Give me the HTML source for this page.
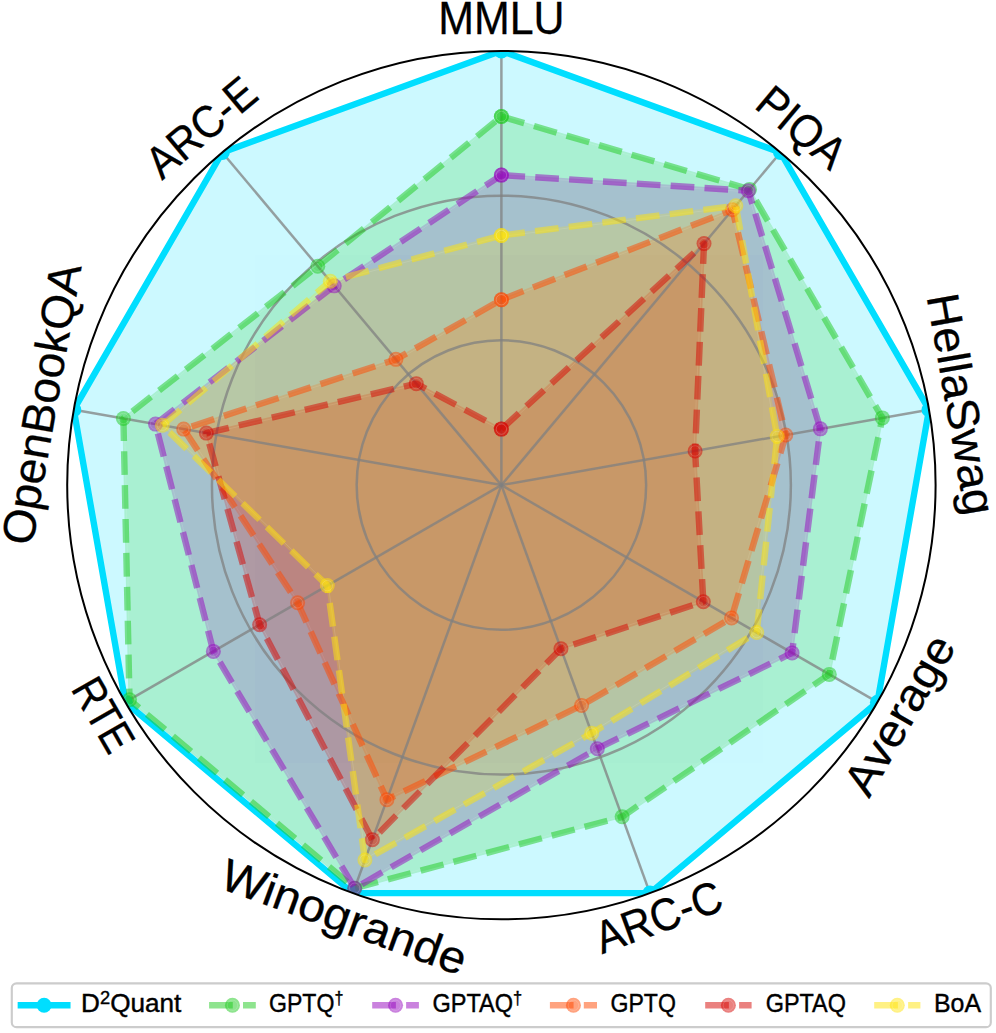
<!DOCTYPE html>
<html><head><meta charset="utf-8"><title>Radar chart</title>
<style>html,body{margin:0;padding:0;background:#fff;}body{width:996px;height:1033px;overflow:hidden;font-family:"Liberation Sans",sans-serif;}svg{display:block;}</style>
</head><body>
<svg width="996" height="1033" viewBox="0 0 996 1033">
<defs><clipPath id="c"><circle cx="501.4" cy="485.1" r="434.2"/></clipPath></defs>
<rect width="996" height="1033" fill="#fff"/>
<g clip-path="url(#c)">
<polygon points="501.40,50.90 780.50,152.48 929.00,409.70 877.43,702.20 649.91,893.11 352.89,893.11 125.37,702.20 73.80,409.70 222.30,152.48" fill="rgb(0,222,255)" stroke="rgb(0,222,255)" stroke-width="2.15" stroke-linejoin="miter" opacity="0.2"/>
<polygon points="501.40,116.46 749.52,189.40 882.39,417.92 829.30,674.41 622.13,816.82 354.68,888.22 129.51,699.81 123.40,418.45 317.75,266.24" fill="rgb(30,202,30)" stroke="rgb(30,202,30)" stroke-width="2.15" stroke-linejoin="miter" opacity="0.2"/>
<polygon points="501.64,117.65 748.81,190.31 881.26,418.10 828.34,673.77 621.68,815.83 354.94,887.04 130.57,699.30 124.48,418.96 318.42,267.07" fill="none" stroke="#fff" stroke-opacity="0.15" stroke-width="0.8"/>
<polygon points="501.40,175.08 748.40,190.73 820.39,428.85 792.07,652.92 597.33,748.68 354.68,888.22 213.36,651.40 155.47,424.10 334.22,285.86" fill="rgb(150,5,190)" stroke="rgb(150,5,190)" stroke-width="2.15" stroke-linejoin="miter" opacity="0.2"/>
<polygon points="501.69,176.17 747.59,191.76 819.30,428.94 791.08,652.21 596.83,747.73 355.06,886.77 214.36,650.98 156.68,424.52 334.84,286.73" fill="none" stroke="#fff" stroke-opacity="0.15" stroke-width="0.8"/>
<polygon points="501.40,299.70 732.49,209.69 785.76,434.96 731.53,617.97 581.59,705.43 386.90,799.68 297.59,602.77 183.69,429.08 395.90,359.37" fill="rgb(255,72,0)" stroke="rgb(255,72,0)" stroke-width="2.15" stroke-linejoin="miter" opacity="0.2"/>
<polygon points="501.86,300.67 731.74,211.14 784.65,434.93 730.62,617.25 581.09,704.48 387.42,798.24 298.53,602.25 185.35,429.66 396.34,360.35" fill="none" stroke="#fff" stroke-opacity="0.15" stroke-width="0.8"/>
<polygon points="501.40,429.09 704.03,243.62 695.10,450.94 703.33,601.68 560.95,648.71 372.35,839.66 259.61,624.70 206.35,433.08 416.27,383.65" fill="rgb(214,4,0)" stroke="rgb(214,4,0)" stroke-width="2.15" stroke-linejoin="miter" opacity="0.2"/>
<polygon points="501.56,430.39 702.85,246.15 694.03,450.95 702.21,600.92 560.37,647.78 372.62,837.87 260.61,624.30 207.68,433.86 416.13,384.79" fill="none" stroke="#fff" stroke-opacity="0.15" stroke-width="0.8"/>
<polygon points="501.40,235.44 735.84,205.70 777.20,436.47 756.72,632.51 591.69,733.17 364.92,860.07 327.30,585.62 162.31,425.31 330.31,281.21" fill="rgb(255,228,10)" stroke="rgb(255,228,10)" stroke-width="2.15" stroke-linejoin="miter" opacity="0.2"/>
<polygon points="501.61,236.49 734.97,206.89 776.12,436.51 755.71,631.87 591.15,732.25 365.77,858.37 328.31,585.11 163.90,425.36 330.82,282.18" fill="none" stroke="#fff" stroke-opacity="0.15" stroke-width="0.8"/>
<circle cx="501.4" cy="485.1" r="144.73" stroke="#808080" stroke-opacity="0.75" stroke-width="2.5" fill="none"/>
<circle cx="501.4" cy="485.1" r="289.47" stroke="#808080" stroke-opacity="0.75" stroke-width="2.5" fill="none"/>
<line x1="501.4" y1="485.1" x2="501.40" y2="50.90" stroke="#808080" stroke-opacity="0.75" stroke-width="2.5" fill="none"/>
<line x1="501.4" y1="485.1" x2="780.50" y2="152.48" stroke="#808080" stroke-opacity="0.75" stroke-width="2.5" fill="none"/>
<line x1="501.4" y1="485.1" x2="929.00" y2="409.70" stroke="#808080" stroke-opacity="0.75" stroke-width="2.5" fill="none"/>
<line x1="501.4" y1="485.1" x2="877.43" y2="702.20" stroke="#808080" stroke-opacity="0.75" stroke-width="2.5" fill="none"/>
<line x1="501.4" y1="485.1" x2="649.91" y2="893.11" stroke="#808080" stroke-opacity="0.75" stroke-width="2.5" fill="none"/>
<line x1="501.4" y1="485.1" x2="352.89" y2="893.11" stroke="#808080" stroke-opacity="0.75" stroke-width="2.5" fill="none"/>
<line x1="501.4" y1="485.1" x2="125.37" y2="702.20" stroke="#808080" stroke-opacity="0.75" stroke-width="2.5" fill="none"/>
<line x1="501.4" y1="485.1" x2="73.80" y2="409.70" stroke="#808080" stroke-opacity="0.75" stroke-width="2.5" fill="none"/>
<line x1="501.4" y1="485.1" x2="222.30" y2="152.48" stroke="#808080" stroke-opacity="0.75" stroke-width="2.5" fill="none"/>
<path d="M501.40 50.90 L780.50 152.48 L929.00 409.70 L877.43 702.20 L649.91 893.11 L352.89 893.11 L125.37 702.20 L73.80 409.70 L222.30 152.48 L501.40 50.90" fill="none" stroke="rgb(0,222,255)" stroke-width="6.4" stroke-linejoin="round" stroke-linecap="square"/>
<circle cx="501.40" cy="50.90" r="7.5" fill="rgb(0,222,255)"/>
<circle cx="780.50" cy="152.48" r="7.5" fill="rgb(0,222,255)"/>
<circle cx="929.00" cy="409.70" r="7.5" fill="rgb(0,222,255)"/>
<circle cx="877.43" cy="702.20" r="7.5" fill="rgb(0,222,255)"/>
<circle cx="649.91" cy="893.11" r="7.5" fill="rgb(0,222,255)"/>
<circle cx="352.89" cy="893.11" r="7.5" fill="rgb(0,222,255)"/>
<circle cx="125.37" cy="702.20" r="7.5" fill="rgb(0,222,255)"/>
<circle cx="73.80" cy="409.70" r="7.5" fill="rgb(0,222,255)"/>
<circle cx="222.30" cy="152.48" r="7.5" fill="rgb(0,222,255)"/>
<path d="M501.40 116.46 L749.52 189.40 L882.39 417.92 L829.30 674.41 L622.13 816.82 L354.68 888.22 L129.51 699.81 L123.40 418.45 L317.75 266.24 L501.40 116.46" fill="none" stroke="rgb(30,202,30)" stroke-opacity="0.5" stroke-width="6.4" stroke-linejoin="round" stroke-linecap="butt" stroke-dasharray="23.68 10.24"/>
<circle cx="501.40" cy="116.46" r="7.5" fill="rgb(30,202,30)" fill-opacity="0.5"/>
<circle cx="501.40" cy="116.46" r="5.2" fill="none" stroke="#fff" stroke-opacity="0.3" stroke-width="0.5"/>
<circle cx="749.52" cy="189.40" r="7.5" fill="rgb(30,202,30)" fill-opacity="0.5"/>
<circle cx="749.52" cy="189.40" r="5.2" fill="none" stroke="#fff" stroke-opacity="0.3" stroke-width="0.5"/>
<circle cx="882.39" cy="417.92" r="7.5" fill="rgb(30,202,30)" fill-opacity="0.5"/>
<circle cx="882.39" cy="417.92" r="5.2" fill="none" stroke="#fff" stroke-opacity="0.3" stroke-width="0.5"/>
<circle cx="829.30" cy="674.41" r="7.5" fill="rgb(30,202,30)" fill-opacity="0.5"/>
<circle cx="829.30" cy="674.41" r="5.2" fill="none" stroke="#fff" stroke-opacity="0.3" stroke-width="0.5"/>
<circle cx="622.13" cy="816.82" r="7.5" fill="rgb(30,202,30)" fill-opacity="0.5"/>
<circle cx="622.13" cy="816.82" r="5.2" fill="none" stroke="#fff" stroke-opacity="0.3" stroke-width="0.5"/>
<circle cx="354.68" cy="888.22" r="7.5" fill="rgb(30,202,30)" fill-opacity="0.5"/>
<circle cx="354.68" cy="888.22" r="5.2" fill="none" stroke="#fff" stroke-opacity="0.3" stroke-width="0.5"/>
<circle cx="129.51" cy="699.81" r="7.5" fill="rgb(30,202,30)" fill-opacity="0.5"/>
<circle cx="129.51" cy="699.81" r="5.2" fill="none" stroke="#fff" stroke-opacity="0.3" stroke-width="0.5"/>
<circle cx="123.40" cy="418.45" r="7.5" fill="rgb(30,202,30)" fill-opacity="0.5"/>
<circle cx="123.40" cy="418.45" r="5.2" fill="none" stroke="#fff" stroke-opacity="0.3" stroke-width="0.5"/>
<circle cx="317.75" cy="266.24" r="7.5" fill="rgb(30,202,30)" fill-opacity="0.5"/>
<circle cx="317.75" cy="266.24" r="5.2" fill="none" stroke="#fff" stroke-opacity="0.3" stroke-width="0.5"/>
<circle cx="501.40" cy="116.46" r="7.5" fill="rgb(30,202,30)" fill-opacity="0.5"/>
<circle cx="501.40" cy="116.46" r="5.2" fill="none" stroke="#fff" stroke-opacity="0.3" stroke-width="0.5"/>
<path d="M501.40 175.08 L748.40 190.73 L820.39 428.85 L792.07 652.92 L597.33 748.68 L354.68 888.22 L213.36 651.40 L155.47 424.10 L334.22 285.86 L501.40 175.08" fill="none" stroke="rgb(150,5,190)" stroke-opacity="0.5" stroke-width="6.4" stroke-linejoin="round" stroke-linecap="butt" stroke-dasharray="23.68 10.24"/>
<circle cx="501.40" cy="175.08" r="7.5" fill="rgb(150,5,190)" fill-opacity="0.5"/>
<circle cx="501.40" cy="175.08" r="5.2" fill="none" stroke="#fff" stroke-opacity="0.3" stroke-width="0.5"/>
<circle cx="748.40" cy="190.73" r="7.5" fill="rgb(150,5,190)" fill-opacity="0.5"/>
<circle cx="748.40" cy="190.73" r="5.2" fill="none" stroke="#fff" stroke-opacity="0.3" stroke-width="0.5"/>
<circle cx="820.39" cy="428.85" r="7.5" fill="rgb(150,5,190)" fill-opacity="0.5"/>
<circle cx="820.39" cy="428.85" r="5.2" fill="none" stroke="#fff" stroke-opacity="0.3" stroke-width="0.5"/>
<circle cx="792.07" cy="652.92" r="7.5" fill="rgb(150,5,190)" fill-opacity="0.5"/>
<circle cx="792.07" cy="652.92" r="5.2" fill="none" stroke="#fff" stroke-opacity="0.3" stroke-width="0.5"/>
<circle cx="597.33" cy="748.68" r="7.5" fill="rgb(150,5,190)" fill-opacity="0.5"/>
<circle cx="597.33" cy="748.68" r="5.2" fill="none" stroke="#fff" stroke-opacity="0.3" stroke-width="0.5"/>
<circle cx="354.68" cy="888.22" r="7.5" fill="rgb(150,5,190)" fill-opacity="0.5"/>
<circle cx="354.68" cy="888.22" r="5.2" fill="none" stroke="#fff" stroke-opacity="0.3" stroke-width="0.5"/>
<circle cx="213.36" cy="651.40" r="7.5" fill="rgb(150,5,190)" fill-opacity="0.5"/>
<circle cx="213.36" cy="651.40" r="5.2" fill="none" stroke="#fff" stroke-opacity="0.3" stroke-width="0.5"/>
<circle cx="155.47" cy="424.10" r="7.5" fill="rgb(150,5,190)" fill-opacity="0.5"/>
<circle cx="155.47" cy="424.10" r="5.2" fill="none" stroke="#fff" stroke-opacity="0.3" stroke-width="0.5"/>
<circle cx="334.22" cy="285.86" r="7.5" fill="rgb(150,5,190)" fill-opacity="0.5"/>
<circle cx="334.22" cy="285.86" r="5.2" fill="none" stroke="#fff" stroke-opacity="0.3" stroke-width="0.5"/>
<circle cx="501.40" cy="175.08" r="7.5" fill="rgb(150,5,190)" fill-opacity="0.5"/>
<circle cx="501.40" cy="175.08" r="5.2" fill="none" stroke="#fff" stroke-opacity="0.3" stroke-width="0.5"/>
<path d="M501.40 299.70 L732.49 209.69 L785.76 434.96 L731.53 617.97 L581.59 705.43 L386.90 799.68 L297.59 602.77 L183.69 429.08 L395.90 359.37 L501.40 299.70" fill="none" stroke="rgb(255,72,0)" stroke-opacity="0.5" stroke-width="6.4" stroke-linejoin="round" stroke-linecap="butt" stroke-dasharray="23.68 10.24"/>
<circle cx="501.40" cy="299.70" r="7.5" fill="rgb(255,72,0)" fill-opacity="0.5"/>
<circle cx="501.40" cy="299.70" r="5.2" fill="none" stroke="#fff" stroke-opacity="0.3" stroke-width="0.5"/>
<circle cx="732.49" cy="209.69" r="7.5" fill="rgb(255,72,0)" fill-opacity="0.5"/>
<circle cx="732.49" cy="209.69" r="5.2" fill="none" stroke="#fff" stroke-opacity="0.3" stroke-width="0.5"/>
<circle cx="785.76" cy="434.96" r="7.5" fill="rgb(255,72,0)" fill-opacity="0.5"/>
<circle cx="785.76" cy="434.96" r="5.2" fill="none" stroke="#fff" stroke-opacity="0.3" stroke-width="0.5"/>
<circle cx="731.53" cy="617.97" r="7.5" fill="rgb(255,72,0)" fill-opacity="0.5"/>
<circle cx="731.53" cy="617.97" r="5.2" fill="none" stroke="#fff" stroke-opacity="0.3" stroke-width="0.5"/>
<circle cx="581.59" cy="705.43" r="7.5" fill="rgb(255,72,0)" fill-opacity="0.5"/>
<circle cx="581.59" cy="705.43" r="5.2" fill="none" stroke="#fff" stroke-opacity="0.3" stroke-width="0.5"/>
<circle cx="386.90" cy="799.68" r="7.5" fill="rgb(255,72,0)" fill-opacity="0.5"/>
<circle cx="386.90" cy="799.68" r="5.2" fill="none" stroke="#fff" stroke-opacity="0.3" stroke-width="0.5"/>
<circle cx="297.59" cy="602.77" r="7.5" fill="rgb(255,72,0)" fill-opacity="0.5"/>
<circle cx="297.59" cy="602.77" r="5.2" fill="none" stroke="#fff" stroke-opacity="0.3" stroke-width="0.5"/>
<circle cx="183.69" cy="429.08" r="7.5" fill="rgb(255,72,0)" fill-opacity="0.5"/>
<circle cx="183.69" cy="429.08" r="5.2" fill="none" stroke="#fff" stroke-opacity="0.3" stroke-width="0.5"/>
<circle cx="395.90" cy="359.37" r="7.5" fill="rgb(255,72,0)" fill-opacity="0.5"/>
<circle cx="395.90" cy="359.37" r="5.2" fill="none" stroke="#fff" stroke-opacity="0.3" stroke-width="0.5"/>
<circle cx="501.40" cy="299.70" r="7.5" fill="rgb(255,72,0)" fill-opacity="0.5"/>
<circle cx="501.40" cy="299.70" r="5.2" fill="none" stroke="#fff" stroke-opacity="0.3" stroke-width="0.5"/>
<path d="M501.40 429.09 L704.03 243.62 L695.10 450.94 L703.33 601.68 L560.95 648.71 L372.35 839.66 L259.61 624.70 L206.35 433.08 L416.27 383.65 L501.40 429.09" fill="none" stroke="rgb(214,4,0)" stroke-opacity="0.5" stroke-width="6.4" stroke-linejoin="round" stroke-linecap="butt" stroke-dasharray="23.68 10.24"/>
<circle cx="501.40" cy="429.09" r="7.5" fill="rgb(214,4,0)" fill-opacity="0.5"/>
<circle cx="501.40" cy="429.09" r="5.2" fill="none" stroke="#fff" stroke-opacity="0.3" stroke-width="0.5"/>
<circle cx="704.03" cy="243.62" r="7.5" fill="rgb(214,4,0)" fill-opacity="0.5"/>
<circle cx="704.03" cy="243.62" r="5.2" fill="none" stroke="#fff" stroke-opacity="0.3" stroke-width="0.5"/>
<circle cx="695.10" cy="450.94" r="7.5" fill="rgb(214,4,0)" fill-opacity="0.5"/>
<circle cx="695.10" cy="450.94" r="5.2" fill="none" stroke="#fff" stroke-opacity="0.3" stroke-width="0.5"/>
<circle cx="703.33" cy="601.68" r="7.5" fill="rgb(214,4,0)" fill-opacity="0.5"/>
<circle cx="703.33" cy="601.68" r="5.2" fill="none" stroke="#fff" stroke-opacity="0.3" stroke-width="0.5"/>
<circle cx="560.95" cy="648.71" r="7.5" fill="rgb(214,4,0)" fill-opacity="0.5"/>
<circle cx="560.95" cy="648.71" r="5.2" fill="none" stroke="#fff" stroke-opacity="0.3" stroke-width="0.5"/>
<circle cx="372.35" cy="839.66" r="7.5" fill="rgb(214,4,0)" fill-opacity="0.5"/>
<circle cx="372.35" cy="839.66" r="5.2" fill="none" stroke="#fff" stroke-opacity="0.3" stroke-width="0.5"/>
<circle cx="259.61" cy="624.70" r="7.5" fill="rgb(214,4,0)" fill-opacity="0.5"/>
<circle cx="259.61" cy="624.70" r="5.2" fill="none" stroke="#fff" stroke-opacity="0.3" stroke-width="0.5"/>
<circle cx="206.35" cy="433.08" r="7.5" fill="rgb(214,4,0)" fill-opacity="0.5"/>
<circle cx="206.35" cy="433.08" r="5.2" fill="none" stroke="#fff" stroke-opacity="0.3" stroke-width="0.5"/>
<circle cx="416.27" cy="383.65" r="7.5" fill="rgb(214,4,0)" fill-opacity="0.5"/>
<circle cx="416.27" cy="383.65" r="5.2" fill="none" stroke="#fff" stroke-opacity="0.3" stroke-width="0.5"/>
<circle cx="501.40" cy="429.09" r="7.5" fill="rgb(214,4,0)" fill-opacity="0.5"/>
<circle cx="501.40" cy="429.09" r="5.2" fill="none" stroke="#fff" stroke-opacity="0.3" stroke-width="0.5"/>
<path d="M501.40 235.44 L735.84 205.70 L777.20 436.47 L756.72 632.51 L591.69 733.17 L364.92 860.07 L327.30 585.62 L162.31 425.31 L330.31 281.21 L501.40 235.44" fill="none" stroke="rgb(255,228,10)" stroke-opacity="0.5" stroke-width="6.4" stroke-linejoin="round" stroke-linecap="butt" stroke-dasharray="23.68 10.24"/>
<circle cx="501.40" cy="235.44" r="7.5" fill="rgb(255,228,10)" fill-opacity="0.5"/>
<circle cx="501.40" cy="235.44" r="5.2" fill="none" stroke="#fff" stroke-opacity="0.3" stroke-width="0.5"/>
<circle cx="735.84" cy="205.70" r="7.5" fill="rgb(255,228,10)" fill-opacity="0.5"/>
<circle cx="735.84" cy="205.70" r="5.2" fill="none" stroke="#fff" stroke-opacity="0.3" stroke-width="0.5"/>
<circle cx="777.20" cy="436.47" r="7.5" fill="rgb(255,228,10)" fill-opacity="0.5"/>
<circle cx="777.20" cy="436.47" r="5.2" fill="none" stroke="#fff" stroke-opacity="0.3" stroke-width="0.5"/>
<circle cx="756.72" cy="632.51" r="7.5" fill="rgb(255,228,10)" fill-opacity="0.5"/>
<circle cx="756.72" cy="632.51" r="5.2" fill="none" stroke="#fff" stroke-opacity="0.3" stroke-width="0.5"/>
<circle cx="591.69" cy="733.17" r="7.5" fill="rgb(255,228,10)" fill-opacity="0.5"/>
<circle cx="591.69" cy="733.17" r="5.2" fill="none" stroke="#fff" stroke-opacity="0.3" stroke-width="0.5"/>
<circle cx="364.92" cy="860.07" r="7.5" fill="rgb(255,228,10)" fill-opacity="0.5"/>
<circle cx="364.92" cy="860.07" r="5.2" fill="none" stroke="#fff" stroke-opacity="0.3" stroke-width="0.5"/>
<circle cx="327.30" cy="585.62" r="7.5" fill="rgb(255,228,10)" fill-opacity="0.5"/>
<circle cx="327.30" cy="585.62" r="5.2" fill="none" stroke="#fff" stroke-opacity="0.3" stroke-width="0.5"/>
<circle cx="162.31" cy="425.31" r="7.5" fill="rgb(255,228,10)" fill-opacity="0.5"/>
<circle cx="162.31" cy="425.31" r="5.2" fill="none" stroke="#fff" stroke-opacity="0.3" stroke-width="0.5"/>
<circle cx="330.31" cy="281.21" r="7.5" fill="rgb(255,228,10)" fill-opacity="0.5"/>
<circle cx="330.31" cy="281.21" r="5.2" fill="none" stroke="#fff" stroke-opacity="0.3" stroke-width="0.5"/>
<circle cx="501.40" cy="235.44" r="7.5" fill="rgb(255,228,10)" fill-opacity="0.5"/>
<circle cx="501.40" cy="235.44" r="5.2" fill="none" stroke="#fff" stroke-opacity="0.3" stroke-width="0.5"/>
</g>
<circle cx="501.4" cy="485.1" r="434.2" fill="none" stroke="#000" stroke-width="2.0"/>
<text transform="translate(501.40 21.80) rotate(0.00) scale(0.9421 1)" x="0" y="11.87" text-anchor="middle" font-family="Liberation Sans, sans-serif" font-size="45.56" fill="#000" stroke="#000" stroke-width="0.3">MMLU</text>
<text transform="translate(799.20 130.19) rotate(40.00) scale(0.9262 1)" x="0" y="11.87" text-anchor="middle" font-family="Liberation Sans, sans-serif" font-size="45.56" fill="#000" stroke="#000" stroke-width="0.3">PIQA</text>
<text transform="translate(957.66 404.65) rotate(80.00) scale(1.0279 1)" x="0" y="11.87" text-anchor="middle" font-family="Liberation Sans, sans-serif" font-size="45.56" fill="#000" stroke="#000" stroke-width="0.3">HellaSwag</text>
<text transform="translate(902.63 716.75) rotate(-60.00) scale(1.0430 1)" x="0" y="11.87" text-anchor="middle" font-family="Liberation Sans, sans-serif" font-size="45.56" fill="#000" stroke="#000" stroke-width="0.3">Average</text>
<text transform="translate(659.86 920.46) rotate(-20.00) scale(0.9130 1)" x="0" y="11.87" text-anchor="middle" font-family="Liberation Sans, sans-serif" font-size="45.56" fill="#000" stroke="#000" stroke-width="0.3">ARC-C</text>
<text transform="translate(342.94 920.46) rotate(20.00) scale(1.0504 1)" x="0" y="11.87" text-anchor="middle" font-family="Liberation Sans, sans-serif" font-size="45.56" fill="#000" stroke="#000" stroke-width="0.3">Winogrande</text>
<text transform="translate(100.17 716.75) rotate(60.00) scale(0.8655 1)" x="0" y="11.87" text-anchor="middle" font-family="Liberation Sans, sans-serif" font-size="45.56" fill="#000" stroke="#000" stroke-width="0.3">RTE</text>
<text transform="translate(45.14 404.65) rotate(-80.00) scale(1.0125 1)" x="0" y="11.87" text-anchor="middle" font-family="Liberation Sans, sans-serif" font-size="45.56" fill="#000" stroke="#000" stroke-width="0.3">OpenBookQA</text>
<text transform="translate(203.60 130.19) rotate(-40.00) scale(0.9074 1)" x="0" y="11.87" text-anchor="middle" font-family="Liberation Sans, sans-serif" font-size="45.56" fill="#000" stroke="#000" stroke-width="0.3">ARC-E</text>
<rect x="11.8" y="983.4" width="979" height="43.7" rx="4.7" ry="4.7" fill="#fff" fill-opacity="0.8" stroke="#cccccc" stroke-width="2.15"/>
<line x1="20.85" y1="1005.3" x2="67.35" y2="1005.3" stroke="rgb(0,222,255)" stroke-width="6.4" stroke-linecap="square"/>
<circle cx="44.10" cy="1005.3" r="7.5" fill="rgb(0,222,255)"/>
<text transform="translate(81.09 1012) scale(1.0452 1)" x="0" y="0" font-family="Liberation Sans, sans-serif" font-size="25.01" fill="#000" stroke="#000" stroke-width="0.4">D<tspan font-size="17.50" dy="-8.5">2</tspan><tspan dy="8.5">Quant</tspan></text>
<line x1="209.10" y1="1005.3" x2="255.80" y2="1005.3" stroke="rgb(30,202,30)" stroke-opacity="0.5" stroke-width="6.4" stroke-dasharray="23.68 10.24"/>
<circle cx="232.45" cy="1005.3" r="7.5" fill="rgb(30,202,30)" fill-opacity="0.5"/>
<circle cx="232.45" cy="1005.3" r="5.2" fill="none" stroke="#fff" stroke-opacity="0.3" stroke-width="0.5"/>
<text transform="translate(268.96 1012) scale(0.9234 1)" x="0" y="0" font-family="Liberation Sans, sans-serif" font-size="25.01" fill="#000" stroke="#000" stroke-width="0.4">GPTQ<tspan font-size="17.50" dy="-8.5">†</tspan></text>
<line x1="372.20" y1="1005.3" x2="418.90" y2="1005.3" stroke="rgb(150,5,190)" stroke-opacity="0.5" stroke-width="6.4" stroke-dasharray="23.68 10.24"/>
<circle cx="395.55" cy="1005.3" r="7.5" fill="rgb(150,5,190)" fill-opacity="0.5"/>
<circle cx="395.55" cy="1005.3" r="5.2" fill="none" stroke="#fff" stroke-opacity="0.3" stroke-width="0.5"/>
<text transform="translate(432.51 1012) scale(0.9413 1)" x="0" y="0" font-family="Liberation Sans, sans-serif" font-size="25.01" fill="#000" stroke="#000" stroke-width="0.4">GPTAQ<tspan font-size="17.50" dy="-8.5">†</tspan></text>
<line x1="549.90" y1="1005.3" x2="597.00" y2="1005.3" stroke="rgb(255,72,0)" stroke-opacity="0.5" stroke-width="6.4" stroke-dasharray="23.68 10.24"/>
<circle cx="573.45" cy="1005.3" r="7.5" fill="rgb(255,72,0)" fill-opacity="0.5"/>
<circle cx="573.45" cy="1005.3" r="5.2" fill="none" stroke="#fff" stroke-opacity="0.3" stroke-width="0.5"/>
<text transform="translate(610.50 1012) scale(0.9235 1)" x="0" y="0" font-family="Liberation Sans, sans-serif" font-size="25.01" fill="#000" stroke="#000" stroke-width="0.4">GPTQ</text>
<line x1="705.20" y1="1005.3" x2="751.60" y2="1005.3" stroke="rgb(214,4,0)" stroke-opacity="0.5" stroke-width="6.4" stroke-dasharray="23.68 10.24"/>
<circle cx="728.40" cy="1005.3" r="7.5" fill="rgb(214,4,0)" fill-opacity="0.5"/>
<circle cx="728.40" cy="1005.3" r="5.2" fill="none" stroke="#fff" stroke-opacity="0.3" stroke-width="0.5"/>
<text transform="translate(765.68 1012) scale(0.9373 1)" x="0" y="0" font-family="Liberation Sans, sans-serif" font-size="25.01" fill="#000" stroke="#000" stroke-width="0.4">GPTAQ</text>
<line x1="874.20" y1="1005.3" x2="920.40" y2="1005.3" stroke="rgb(255,228,10)" stroke-opacity="0.5" stroke-width="6.4" stroke-dasharray="23.68 10.24"/>
<circle cx="897.30" cy="1005.3" r="7.5" fill="rgb(255,228,10)" fill-opacity="0.5"/>
<circle cx="897.30" cy="1005.3" r="5.2" fill="none" stroke="#fff" stroke-opacity="0.3" stroke-width="0.5"/>
<text transform="translate(934.01 1012) scale(0.9955 1)" x="0" y="0" font-family="Liberation Sans, sans-serif" font-size="25.01" fill="#000" stroke="#000" stroke-width="0.4">BoA</text>
</svg>
</body></html>
